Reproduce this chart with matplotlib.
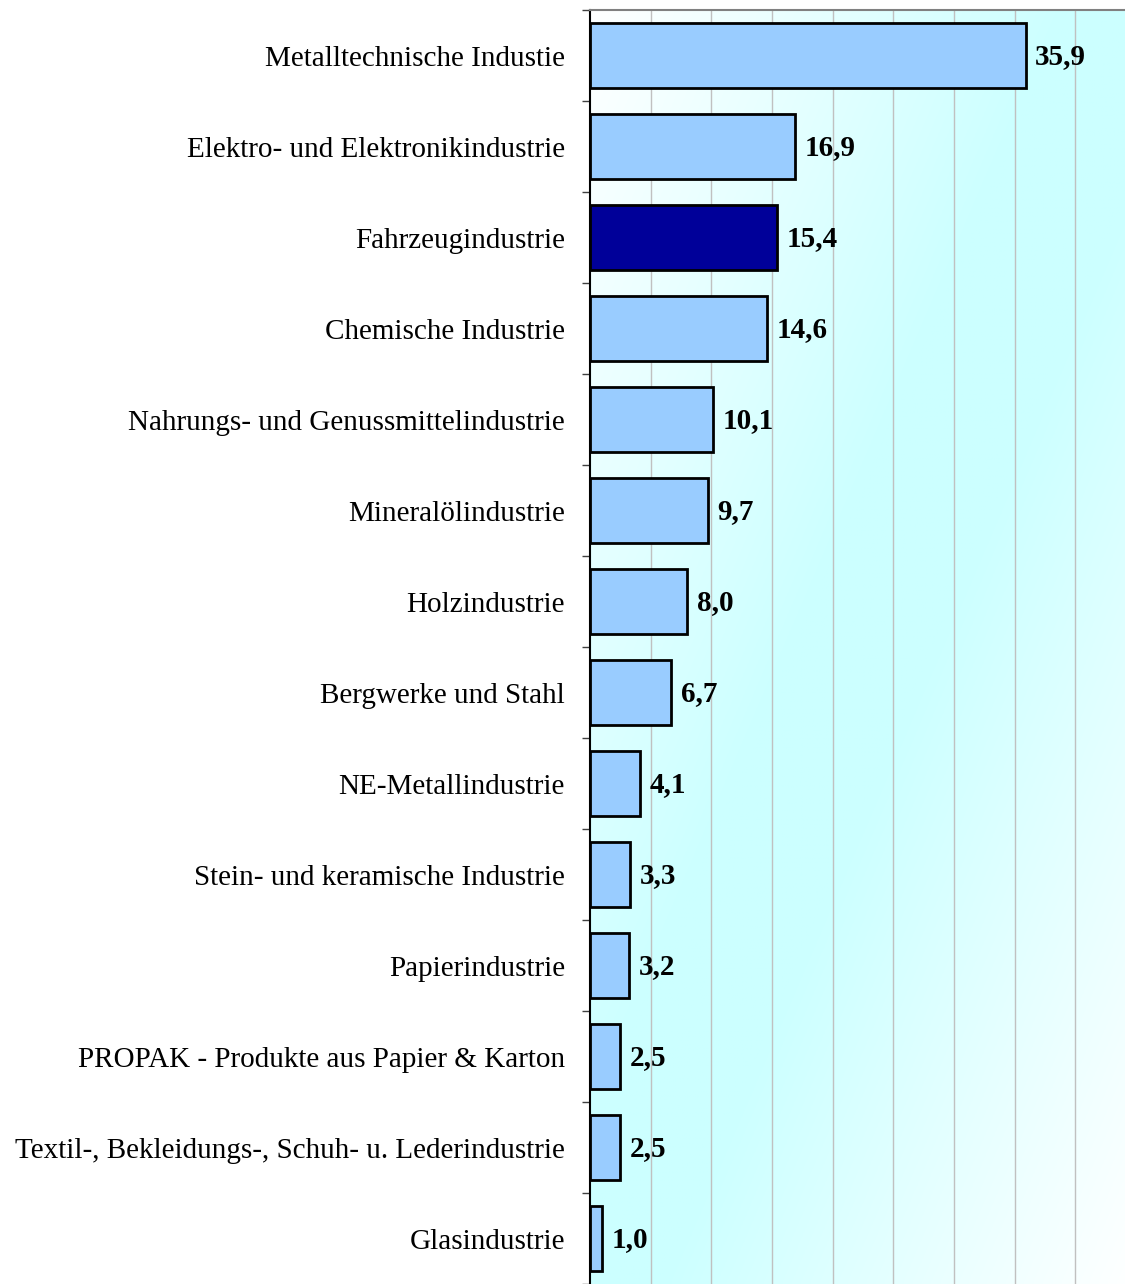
import numpy as np
import matplotlib.pyplot as plt

categories = [
    "Metalltechnische Industie",
    "Elektro- und Elektronikindustrie",
    "Fahrzeugindustrie",
    "Chemische Industrie",
    "Nahrungs- und Genussmittelindustrie",
    "Mineralölindustrie",
    "Holzindustrie",
    "Bergwerke und Stahl",
    "NE-Metallindustrie",
    "Stein- und keramische Industrie",
    "Papierindustrie",
    "PROPAK - Produkte aus Papier & Karton",
    "Textil-, Bekleidungs-, Schuh- u. Lederindustrie",
    "Glasindustrie",
]
values = [35.9, 16.9, 15.4, 14.6, 10.1, 9.7, 8.0, 6.7, 4.1, 3.3, 3.2, 2.5, 2.5, 1.0]
highlight = "Fahrzeugindustrie"

plt.rcParams['font.family'] = ['Liberation Serif', 'DejaVu Serif']

fig = plt.figure(figsize=(11.25, 12.84), dpi=100)
ax = fig.add_axes([590 / 1125, 0, 546 / 1125, 1 - 10 / 1284])

xmax = 45
n = len(categories)
ax.set_xlim(0, xmax)
ax.set_ylim(n - 0.5, -0.5)

# diagonal gradient background: white -> cyan -> white
gx, gy = np.meshgrid(np.linspace(0, 1, 300), np.linspace(0, 1, 300))
t = (gx + gy) / 2
w = 1 - np.abs(t - 0.5) * 2
w = np.clip(w * 1.15, 0, 1)
cyan = np.array([0.80, 1.0, 1.0])
img = np.ones((300, 300, 3)) * (1 - w[..., None]) + cyan * w[..., None]
ax.imshow(img, extent=[0, xmax, n - 0.5, -0.5], aspect='auto', zorder=0)

for x in range(5, xmax, 5):
    ax.axvline(x, color='#c0c0c0', lw=1, zorder=1)

colors = ['#000099' if c == highlight else '#99ccff' for c in categories]
y = np.arange(n)
ax.barh(y, values, height=0.72, color=colors, edgecolor='black', linewidth=2, zorder=2)

for yi, v in zip(y, values):
    ax.text(v + 0.8, yi + 0.01, f"{v:.1f}".replace('.', ','), va='center', ha='left',
            fontsize=21, fontweight='bold', zorder=3)

ax.set_yticks(np.arange(n + 1) - 0.5, minor=False)
ax.set_yticklabels([])
ax.set_yticks(y, minor=True)
ax.set_yticklabels(categories, minor=True, fontsize=21)
ax.tick_params(axis='y', which='minor', length=0, pad=18)
ax.tick_params(axis='y', which='major', length=6, width=1, direction='out', color='#404040')
ax.set_xticks([])

ax.spines['left'].set_color('black')
ax.spines['left'].set_linewidth(1.5)
ax.spines['top'].set_color('#808080')
ax.spines['top'].set_linewidth(1.5)
ax.spines['right'].set_visible(False)
ax.spines['bottom'].set_visible(False)

fig.savefig('out.png', dpi=100)
